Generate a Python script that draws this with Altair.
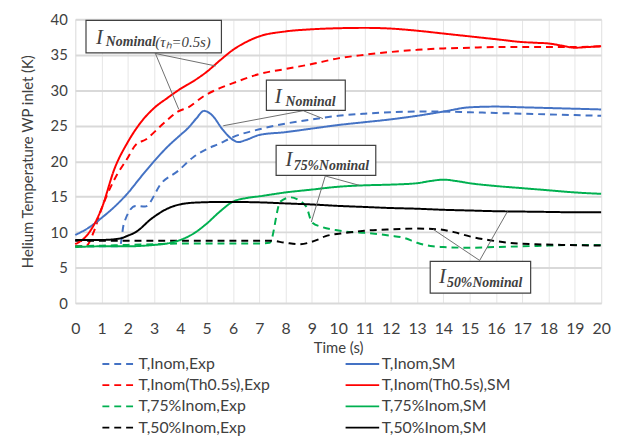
import altair as alt
import pandas as pd

# ---------------- data ----------------
# legend order: experimental series first (left column), simulations second (right column)
series_names = [
    "T,Inom,Exp", "T,Inom(Th0.5s),Exp", "T,75%Inom,Exp", "T,50%Inom,Exp",
    "T,Inom,SM", "T,Inom(Th0.5s),SM", "T,75%Inom,SM", "T,50%Inom,SM",
]
series_colors = ["#4472C4", "#FF0000", "#00B050", "#000000",
                 "#4472C4", "#FF0000", "#00B050", "#000000"]
series_dash = [[7, 5], [7, 5], [7, 5], [7, 5], [1, 0], [1, 0], [1, 0], [1, 0]]

inom_exp_t = [0, 1, 1.7, 1.85, 2.3, 2.65, 3.3, 3.9, 4.5, 5, 5.5, 6, 7, 8, 9, 10, 11, 12, 13, 14, 15, 16, 17, 18, 19, 20]
inom_exp_v = [8.0, 8.0, 8.0, 11.2, 13.7, 13.6, 17.0, 18.6, 20.6, 21.7, 22.5, 23.4, 24.5, 25.3, 25.9, 26.4, 26.7, 26.9, 27.0, 27.0, 26.9, 26.8, 26.7, 26.6, 26.5, 26.4]

inom_sm_t = [0, 0.5, 1, 1.5, 2, 2.5, 3, 3.5, 4, 4.3, 4.6, 4.9, 5.2, 5.6, 6, 6.2, 6.5, 7, 8, 9, 10, 11, 12, 13, 14, 15, 16, 17, 18, 19, 20]
inom_sm_v = [9.6, 10.6, 12.0, 13.6, 15.5, 17.8, 20.0, 22.0, 23.7, 24.7, 26.0, 27.1, 26.5, 24.5, 23.0, 22.7, 23.0, 23.7, 24.1, 24.6, 25.1, 25.5, 25.9, 26.4, 27.0, 27.6, 27.7, 27.6, 27.5, 27.4, 27.3]

th_exp_t = [0, 0.4, 0.7, 1, 1.5, 2, 2.3, 2.7, 3.2, 3.5, 3.9, 4.3, 4.9, 5.5, 6, 7, 8, 9, 10, 11, 12, 13, 14, 15, 16, 17, 18, 19, 20]
th_exp_v = [8.0, 8.0, 10.0, 13.3, 17.5, 20.5, 22.3, 23.1, 24.8, 25.8, 27.0, 27.6, 29.2, 30.3, 31.0, 32.3, 33.0, 33.7, 34.5, 35.0, 35.4, 35.7, 35.9, 36.0, 36.1, 36.1, 36.1, 36.1, 36.2]

th_sm_t = [0, 0.5, 1, 1.5, 2, 2.5, 3, 3.5, 4, 4.5, 5, 5.5, 6, 6.5, 7, 8, 9, 10, 11, 12, 13, 14, 15, 16, 17, 17.5, 18, 18.5, 19, 19.5, 20]
th_sm_v = [8.3, 9.8, 13.3, 19.0, 22.7, 25.5, 27.5, 28.9, 30.2, 31.3, 32.6, 34.2, 35.7, 36.8, 37.6, 38.3, 38.6, 38.75, 38.8, 38.7, 38.4, 38.0, 37.6, 37.2, 36.8, 36.7, 36.6, 36.3, 36.0, 36.1, 36.2]

p75_exp_t = [0, 1, 2, 3, 4, 5, 6, 7, 7.4, 7.8, 8.2, 8.5, 8.8, 9.0, 9.4, 9.9, 10.5, 11, 12, 12.5, 13, 13.6, 14, 15, 16, 17, 18, 19, 20]
p75_exp_v = [8.0, 8.1, 8.2, 8.3, 8.4, 8.4, 8.4, 8.4, 8.5, 14.3, 14.9, 14.5, 13.5, 11.4, 10.7, 10.3, 10.0, 9.9, 9.5, 9.2, 8.5, 8.0, 7.9, 7.8, 7.9, 8.0, 8.1, 8.2, 8.2]

p75_sm_t = [0, 1, 2, 3, 3.5, 4, 4.5, 5, 5.5, 6, 6.5, 7, 8, 9, 10, 11, 12, 13, 13.5, 14, 14.5, 15, 16, 17, 18, 19, 20]
p75_sm_v = [7.9, 8.0, 8.0, 8.2, 8.4, 8.9, 9.8, 11.2, 12.9, 14.3, 14.8, 15.05, 15.6, 16.0, 16.4, 16.6, 16.7, 16.9, 17.2, 17.4, 17.2, 16.9, 16.5, 16.2, 15.9, 15.6, 15.4]

p50_exp_t = [0, 1, 2, 3, 4, 5, 6, 7, 7.4, 8, 8.5, 9.2, 9.5, 10.3, 11, 12, 13, 13.8, 14.4, 15, 15.7, 16.5, 17.5, 18.5, 20]
p50_exp_v = [8.8, 8.8, 8.8, 8.8, 8.8, 8.8, 8.8, 8.8, 8.8, 8.5, 8.3, 8.9, 9.4, 9.9, 10.2, 10.4, 10.5, 10.4, 10.0, 9.4, 8.9, 8.5, 8.3, 8.2, 8.1]

p50_sm_t = [0, 1, 1.7, 2, 2.3, 2.9, 3.5, 4.2, 4.8, 5.5, 6, 7, 8, 9, 10, 11, 12, 13, 14, 15, 16, 17, 18, 19, 20]
p50_sm_v = [8.9, 8.9, 9.1, 9.5, 10.0, 11.9, 13.3, 14.05, 14.2, 14.25, 14.25, 14.2, 14.05, 13.9, 13.7, 13.55, 13.4, 13.3, 13.15, 13.05, 12.95, 12.9, 12.85, 12.8, 12.8]

series_data = [
    (inom_exp_t, inom_exp_v), (th_exp_t, th_exp_v), (p75_exp_t, p75_exp_v), (p50_exp_t, p50_exp_v),
    (inom_sm_t, inom_sm_v), (th_sm_t, th_sm_v), (p75_sm_t, p75_sm_v), (p50_sm_t, p50_sm_v),
]

# annotation boxes (data coordinates)
box_x1 = [0.41, 7.27, 7.64, 13.5]
box_x2 = [5.56, 10.27, 11.43, 17.32]
box_y1 = [39.86, 31.43, 22.22, 5.875]
box_y2 = [35.28, 27.18, 18.01, 1.39]

# leader lines: start (at box) -> end (on curve)
lead_x1 = [3.05, 3.05, 8.67, 8.67, 9.51, 9.51, 15.38, 15.38]
lead_y1 = [35.18, 35.18, 27.12, 27.12, 17.92, 17.92, 6.01, 6.01]
lead_x2 = [5.34, 3.94, 5.63, 9.42, 8.98, 10.8, 13.62, 16.44]
lead_y2 = [33.43, 27.3, 25.0, 26.01, 11.43, 16.6, 10.38, 12.92]

# annotation labels: big "I" and subscripts
i_x = [0.79, 7.59, 8.0, 13.83]
i_y = [37.36, 29.03, 20.14, 3.61]
sub_text = ["Nominal", "Nominal", "75%Nominal", "50%Nominal"]
sub_x = [1.165, 8.0, 8.31, 14.14]
sub_y = [36.8, 28.33, 19.31, 2.78]
sub2_text = ["(τₕ=0.5s)"]
sub2_x = [3.045]
sub2_y = [36.8]

x_ticks = list(range(0, 21))
y_ticks = [0, 5, 10, 15, 20, 25, 30, 35, 40]

# ---------------- build tables ----------------
rows = []
for name, (ts, vs) in zip(series_names, series_data):
    for t, v in zip(ts, vs):
        rows.append({"Series": name, "t": t, "T": v})
df = pd.DataFrame(rows)

boxes = pd.DataFrame({"x1": box_x1, "x2": box_x2, "y1": box_y1, "y2": box_y2})
leads = pd.DataFrame({"x1": lead_x1, "x2": lead_x2, "y1": lead_y1, "y2": lead_y2})
ilab = pd.DataFrame({"x": i_x, "y": i_y, "txt": ["I"] * len(i_x)})
slab = pd.DataFrame({"x": sub_x, "y": sub_y, "txt": sub_text})
slab2 = pd.DataFrame({"x": sub2_x, "y": sub2_y, "txt": sub2_text})

FONT = "Lato"
xscale = alt.Scale(domain=[0, 20], nice=False, zero=False)
yscale = alt.Scale(domain=[0, 40], nice=False)
xax = alt.Axis(values=x_ticks, title="Time (s)", grid=True, gridColor="#e6e6e6",
               gridWidth=1, ticks=False, domain=False, labelPadding=18,
               labelFontSize=16, titleFontSize=15, titlePadding=4,
               labelFont=FONT, titleFont=FONT, labelColor="#404040",
               titleColor="#404040", titleFontWeight="normal", labelFlush=False)
yax = alt.Axis(values=y_ticks, title="Helium Temperature WP inlet (K)", grid=True,
               gridColor="#d9d9d9", gridWidth=2, ticks=False, domain=False,
               labelPadding=8, labelFontSize=15, titleFontSize=15, titlePadding=15,
               labelFont=FONT, titleFont=FONT, labelColor="#404040",
               titleColor="#404040", titleFontWeight="normal")

leg = alt.Legend(title=None, orient="none", legendX=35, legendY=339, columns=2,
                 direction="vertical",
                 symbolType="M-2,0H2", symbolSize=289, symbolStrokeWidth=2,
                 labelFont=FONT, labelFontSize=16, labelColor="#404040",
                 labelOffset=10, rowPadding=3.5, columnPadding=72, labelLimit=300)

lines = alt.Chart(df).mark_line(strokeWidth=2, interpolate="monotone").encode(
    x=alt.X("t:Q", scale=xscale, axis=xax),
    y=alt.Y("T:Q", scale=yscale, axis=yax),
    color=alt.Color("Series:N", scale=alt.Scale(domain=series_names, range=series_colors), legend=leg),
    strokeDash=alt.StrokeDash("Series:N", scale=alt.Scale(domain=series_names, range=series_dash), legend=leg),
    order=alt.Order("t:Q"),
)

lead_rules = alt.Chart(leads).mark_rule(color="#6e6e6e", strokeWidth=1).encode(
    x=alt.X("x1:Q", scale=xscale, axis=xax), y=alt.Y("y1:Q", scale=yscale, axis=yax),
    x2="x2:Q", y2="y2:Q")

box_rects = alt.Chart(boxes).mark_rect(fill="white", stroke="#404040", strokeWidth=1.2).encode(
    x=alt.X("x1:Q", scale=xscale, axis=xax), y=alt.Y("y1:Q", scale=yscale, axis=yax),
    x2="x2:Q", y2="y2:Q")

i_text = alt.Chart(ilab).mark_text(align="left", baseline="middle", font="Liberation Serif",
                                   fontStyle="italic", fontSize=21, color="#404040").encode(
    x=alt.X("x:Q", scale=xscale, axis=xax), y=alt.Y("y:Q", scale=yscale, axis=yax), text="txt:N")

s_text = alt.Chart(slab).mark_text(align="left", baseline="middle", font="Liberation Serif",
                                   fontStyle="italic", fontWeight="bold", fontSize=14,
                                   color="#404040").encode(
    x=alt.X("x:Q", scale=xscale, axis=xax), y=alt.Y("y:Q", scale=yscale, axis=yax), text="txt:N")

s2_text = alt.Chart(slab2).mark_text(align="left", baseline="middle", font="Liberation Serif",
                                     fontStyle="italic", fontSize=15, color="#404040").encode(
    x=alt.X("x:Q", scale=xscale, axis=xax), y=alt.Y("y:Q", scale=yscale, axis=yax), text="txt:N")

chart = alt.layer(lines, lead_rules, box_rects, i_text, s_text, s2_text).properties(
    width=532, height=287,
    autosize=alt.AutoSizeParams(type="none"),
    padding={"left": 68, "top": 9, "right": 11, "bottom": 133},
).configure_view(stroke="#d9d9d9", strokeWidth=1).configure(background="white")

chart.save("out.html", embed_options={"renderer": "svg", "actions": False})
